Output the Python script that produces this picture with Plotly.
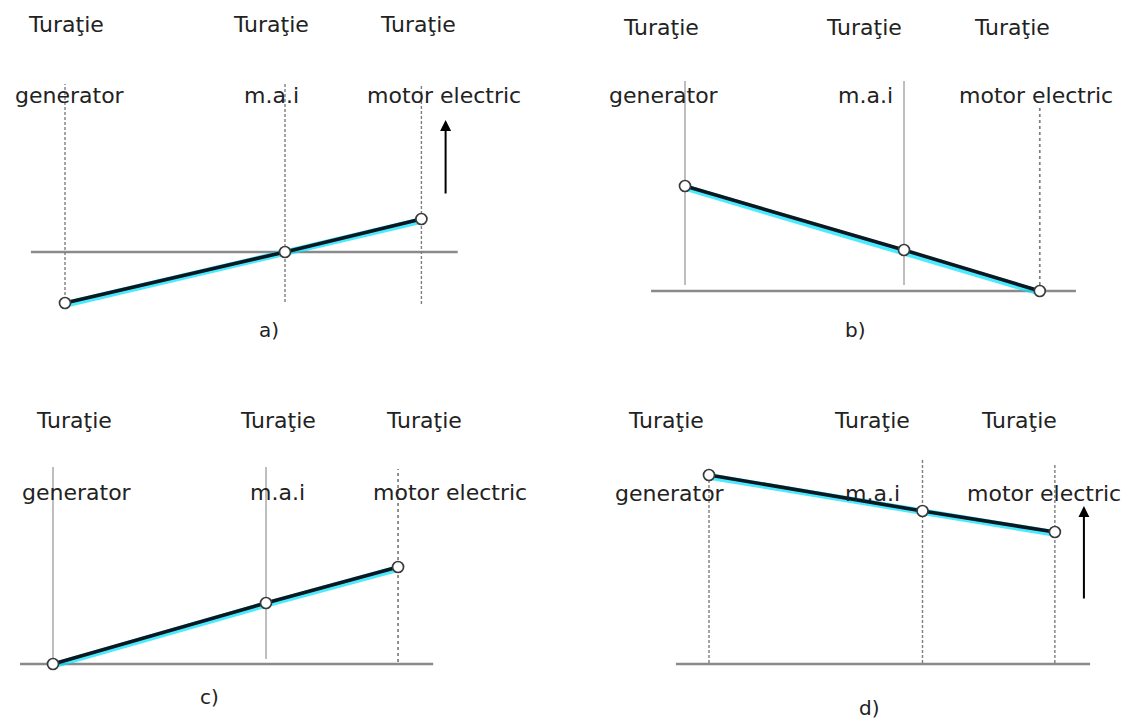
import plotly.graph_objects as go

W, H = 1138, 721

# Lever positions of the three shafts (generator, m.a.i, motor electric)
SHAFT_X = [0.0, 1.0, 1.62]
TOP_LABEL = "Turaţie"
SHAFT_NAMES = ["generator", "m.a.i", "motor electric"]

# Relative shaft speeds for the four operating modes
SPEED_A = [-51, 0, 33]
SPEED_B = [105, 41, 0]
SPEED_C = [0, 61, 97]
SPEED_D = [189, 153, 132]

PANEL_TAGS = ["a)", "b)", "c)", "d)"]

FONT = "DejaVu Sans"
TEXT_COLOR = "#222222"
LEVER_COLOR = "#0a1822"
GLOW_COLOR = "rgba(0,225,255,0.7)"
BASE_COLOR = "#8a8a8a"
GUIDE_COLOR = "#7e7e7e"

# Page layout of each panel (pixels): frame, generator shaft x, px per lever unit,
# baseline y, label rows and label centres, shaft line styles and extents.
PANELS = [
    dict(speeds=SPEED_A, tag=PANEL_TAGS[0], frame=(0, 569, 0, 360), gx=65, ux=220, by=252,
         rows=(25, 96), top_cx=(66, 271, 418), bot_cx=(70, 271, 444), tag_xy=(269, 330),
         styles=("dash", "dash", "dash"), tops=(168, 168, 168), bottoms=(-53, -50, -52),
         arrow=(1.73, 57, 132)),
    dict(speeds=SPEED_B, tag=PANEL_TAGS[1], frame=(569, 1138, 0, 360), gx=685, ux=219, by=291,
         rows=(28, 96), top_cx=(661, 864, 1012), bot_cx=(664, 865, 1036), tag_xy=(855, 330),
         styles=("solid", "solid", "dot"), tops=(210, 210, 183), bottoms=(6, 6, 0),
         arrow=None),
    dict(speeds=SPEED_C, tag=PANEL_TAGS[2], frame=(0, 569, 360, 721), gx=53, ux=213, by=664,
         rows=(420, 492), top_cx=(74, 278, 424), bot_cx=(77, 277, 450), tag_xy=(209, 697),
         styles=("solid", "solid", "dot"), tops=(197, 197, 195), bottoms=(0, 5, 2),
         arrow=None),
    dict(speeds=SPEED_D, tag=PANEL_TAGS[3], frame=(569, 1138, 360, 721), gx=709, ux=213.5, by=664,
         rows=(420, 493), top_cx=(666, 872, 1019), bot_cx=(670, 872, 1044), tag_xy=(869, 708),
         styles=("dash", "dash", "dash"), tops=(189, 204, 201), bottoms=(1, 1, 1),
         arrow=(1.756, 64, 158)),
]

DASHES = {"solid": "solid", "dash": "3px,2px", "dot": "3px,3px"}
WIDTHS = {"solid": 1.0, "dash": 1.4, "dot": 1.7}
LABEL_SIZE = 22

fig = go.Figure()
shapes = []
annotations = []
layout_axes = {}


def px(x):
    return x / W


def py(y):
    return 1 - y / H


for k, p in enumerate(PANELS, start=1):
    xa, ya = f"x{k}", f"y{k}"
    x0, x1, y0, y1 = p["frame"]
    layout_axes[f"xaxis{k}"] = dict(
        domain=[px(x0), px(x1)],
        range=[(x0 - p["gx"]) / p["ux"], (x1 - p["gx"]) / p["ux"]],
        visible=False, anchor=ya, fixedrange=True,
    )
    layout_axes[f"yaxis{k}"] = dict(
        domain=[py(y1), py(y0)],
        range=[p["by"] - y1, p["by"] - y0],
        visible=False, anchor=xa, fixedrange=True,
    )

    # zero-speed baseline
    shapes.append(dict(type="line", xref=xa, yref=ya, x0=-0.155, x1=1.785, y0=0, y1=0,
                       line=dict(color=BASE_COLOR, width=2.5), layer="below"))
    # shaft guide lines
    for sx, st, top, bot in zip(SHAFT_X, p["styles"], p["tops"], p["bottoms"]):
        shapes.append(dict(type="line", xref=xa, yref=ya, x0=sx, x1=sx, y0=bot, y1=top,
                           line=dict(color=GUIDE_COLOR, width=WIDTHS[st], dash=DASHES[st]),
                           layer="below"))

    speeds = p["speeds"]
    # soft cyan halo under the lever
    fig.add_trace(go.Scatter(x=SHAFT_X, y=[v - 1.5 for v in speeds], mode="lines",
                             line=dict(color=GLOW_COLOR, width=6.5), xaxis=xa, yaxis=ya,
                             hoverinfo="skip", showlegend=False))
    # lever line with shaft nodes
    fig.add_trace(go.Scatter(x=SHAFT_X, y=speeds, mode="lines+markers",
                             line=dict(color=LEVER_COLOR, width=3.6),
                             marker=dict(size=11, color="white",
                                         line=dict(color="#3a3a3a", width=1.7)),
                             xaxis=xa, yaxis=ya, cliponaxis=False, showlegend=False,
                             text=SHAFT_NAMES, hovertemplate="%{text}: %{y}<extra></extra>"))

    # labels
    for cx in p["top_cx"]:
        annotations.append(dict(text=TOP_LABEL, x=px(cx), y=py(p["rows"][0]), xref="paper",
                                yref="paper", showarrow=False, xanchor="center",
                                yanchor="middle", font=dict(family=FONT, size=LABEL_SIZE,
                                                            color=TEXT_COLOR)))
    for cx, name in zip(p["bot_cx"], SHAFT_NAMES):
        annotations.append(dict(text=name, x=px(cx), y=py(p["rows"][1]), xref="paper",
                                yref="paper", showarrow=False, xanchor="center",
                                yanchor="middle", font=dict(family=FONT, size=LABEL_SIZE,
                                                            color=TEXT_COLOR)))
    tx, ty = p["tag_xy"]
    annotations.append(dict(text=p["tag"], x=px(tx), y=py(ty), xref="paper", yref="paper",
                            showarrow=False, xanchor="center", yanchor="middle",
                            font=dict(family=FONT, size=20, color=TEXT_COLOR)))

    # direction arrow
    if p["arrow"]:
        ax_x, tail, head = p["arrow"]
        annotations.append(dict(x=ax_x, y=head, ax=ax_x, ay=tail, xref=xa, yref=ya,
                                axref=xa, ayref=ya, text="", showarrow=True,
                                arrowhead=2, arrowsize=1.1, arrowwidth=2,
                                arrowcolor="#000000"))

fig.update_layout(
    width=W, height=H,
    margin=dict(l=0, r=0, t=0, b=0),
    paper_bgcolor="white", plot_bgcolor="white",
    showlegend=False,
    shapes=shapes,
    annotations=annotations,
    **layout_axes,
)

fig.write_html("out.html")
